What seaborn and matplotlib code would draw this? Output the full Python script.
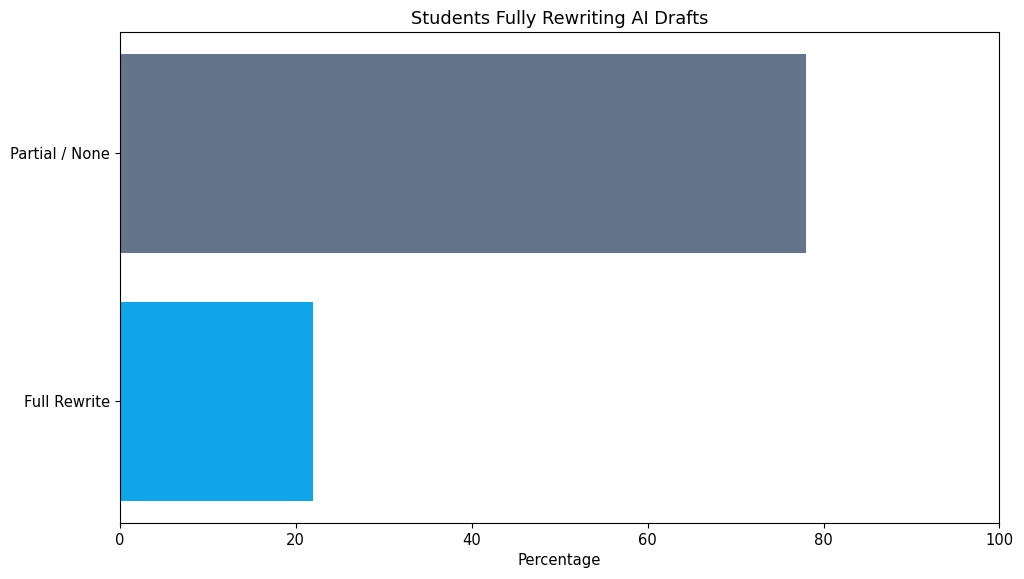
import matplotlib
matplotlib.use("Agg")
import matplotlib.pyplot as plt
import seaborn as sns
import pandas as pd

categories = ["Partial / None", "Full Rewrite"]
values = [78, 22]
colors = ["#64748B", "#0EA5E9"]

df = pd.DataFrame({"category": categories, "value": values})

fig, ax = plt.subplots(figsize=(10.24, 5.79), dpi=100)
sns.barplot(data=df, x="value", y="category", hue="category",
            palette=dict(zip(categories, colors)), order=categories,
            legend=False, ax=ax, saturation=1, width=0.8)
ax.set_xlim(0, 100)
ax.set_ylim(1.49, -0.49)
ax.set_xlabel("Percentage", fontsize=10.6)
ax.set_ylabel("")
ax.set_title("Students Fully Rewriting AI Drafts", fontsize=12.8)
ax.tick_params(labelsize=10.6)
fig.subplots_adjust(left=0.117, right=0.976, top=0.945, bottom=0.097)
fig.savefig("out.png", dpi=100)
